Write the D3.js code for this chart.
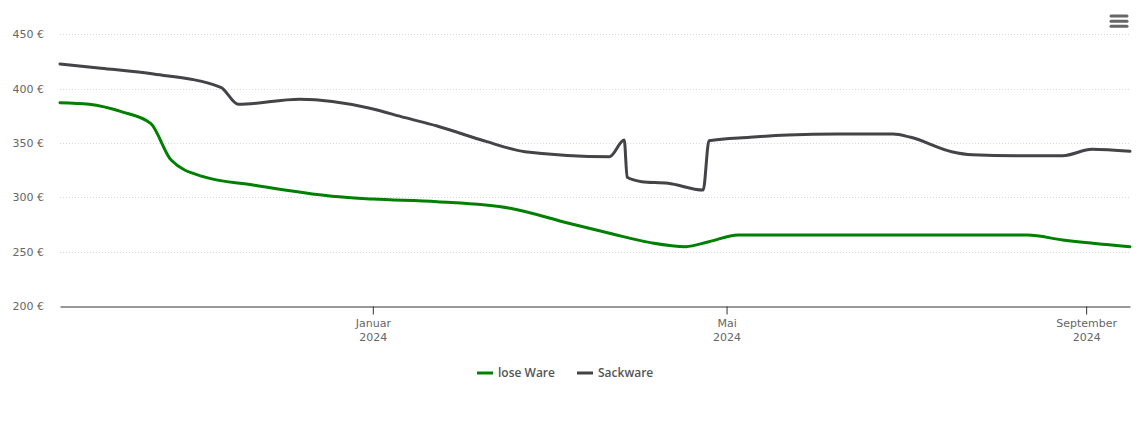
<!DOCTYPE html>
<html>
<head>
<meta charset="utf-8">
<script src="https://cdn.jsdelivr.net/npm/d3@7"></script>
<style>
  body { margin: 0; background: #fff; }
  svg { display: block; }
  text { font-family: "DejaVu Sans", sans-serif; }
</style>
</head>
<body>
<svg id="chart" width="1140" height="434"></svg>
<script>
// price history
const looseDates = ['2023-09-16', '2023-09-26', '2023-10-07', '2023-10-17', '2023-10-24', '2023-11-04',
    '2023-11-21', '2023-12-18', '2024-01-01', '2024-01-23', '2024-02-17', '2024-03-08', '2024-03-22',
    '2024-04-05', '2024-04-17', '2024-04-25', '2024-05-05', '2024-08-12', '2024-08-24', '2024-09-16'];
const looseValues = [387.1, 385.6, 378.8, 368.1, 334.3, 319, 311.3, 301, 298.4, 296, 289.9, 276.1, 266.9,
    258.3, 254.6, 259.2, 265.3, 265.3, 260.7, 254.6];

const sackDates = ['2023-09-16', '2023-09-30', '2023-10-18', '2023-11-10', '2023-11-16', '2023-12-07',
    '2023-12-31', '2024-01-12', '2024-01-23', '2024-02-09', '2024-02-22', '2024-03-22', '2024-03-27',
    '2024-03-28', '2024-04-02', '2024-04-11', '2024-04-23', '2024-04-25', '2024-05-09', '2024-05-22',
    '2024-06-08', '2024-06-27', '2024-07-03', '2024-07-17', '2024-07-24', '2024-08-08', '2024-08-24',
    '2024-09-03', '2024-09-16'];
const sackValues = [422.7, 418.8, 413.5, 401.2, 385.6, 390.2, 382, 373.3, 365.6, 351.2, 342, 337.4, 352.7,
    318.4, 314.4, 313, 306.7, 352, 355.2, 357.3, 358.3, 358.3, 355.2, 342, 339.2, 338.3, 338.3, 344.2, 342.3];

const yTicks = [200, 250, 300, 350, 400, 450];
const xTicks = ['2024-01-01', '2024-05-01', '2024-09-01'];
const monthNames = { 0: 'Januar', 4: 'Mai', 8: 'September' };

const seriesNames = ['lose Ware', 'Sackware'];
const seriesColors = ['#008000', '#434348'];

const parse = d3.utcParse('%Y-%m-%d');
const series = [
    looseDates.map((d, i) => ({ date: parse(d), value: looseValues[i] })),
    sackDates.map((d, i) => ({ date: parse(d), value: sackValues[i] })),
];

const width = 1140;
const margin = { left: 60, right: 10, top: 34.3 };
const plotBottom = 306;
const font = '"DejaVu Sans", sans-serif';

const svg = d3.select('#chart');

const x = d3.scaleUtc()
    .domain([parse('2023-09-16'), parse('2024-09-16')])
    .range([margin.left, width - margin.right]);

const y = d3.scaleLinear()
    .domain([200, 450])
    .range([plotBottom, margin.top]);

// grid
svg.append('g')
    .selectAll('line')
    .data(yTicks.filter((t) => t > 200))
    .enter()
    .append('line')
    .attr('x1', margin.left)
    .attr('x2', width - margin.right)
    .attr('y1', (d) => Math.round(y(d)) + 0.5)
    .attr('y2', (d) => Math.round(y(d)) + 0.5)
    .attr('stroke', '#d8d8d8')
    .attr('stroke-dasharray', '1,2');

// y labels
const yAxis = d3.axisLeft(y)
    .tickValues(yTicks)
    .tickSize(0)
    .tickPadding(16)
    .tickFormat((d) => d + ' €');

svg.append('g')
    .attr('transform', `translate(${margin.left},0)`)
    .call(yAxis)
    .attr('font-family', font)
    .attr('font-size', 11)
    .call((g) => g.select('.domain').remove())
    .call((g) => g.selectAll('text').attr('fill', '#666'));

// x axis
const xAxis = d3.axisBottom(x)
    .tickValues(xTicks.map(parse))
    .tickSize(8)
    .tickSizeOuter(0)
    .tickFormat('');

const xg = svg.append('g')
    .attr('transform', `translate(0,${plotBottom + 0.5})`)
    .call(xAxis)
    .attr('font-family', font)
    .attr('font-size', 11);
xg.select('.domain').attr('stroke', '#333');
xg.selectAll('.tick line').attr('stroke', '#333');

const labels = xg.selectAll('.tick')
    .append('text')
    .attr('fill', '#666')
    .attr('text-anchor', 'middle');
labels.append('tspan')
    .attr('x', 0)
    .attr('y', 20)
    .text((d) => monthNames[d.getUTCMonth()]);
labels.append('tspan')
    .attr('x', 0)
    .attr('y', 34)
    .text((d) => d.getUTCFullYear());

// lines
const line = d3.line()
    .x((d) => x(d.date))
    .y((d) => y(d.value))
    .curve(d3.curveMonotoneX);

svg.append('g')
    .selectAll('path')
    .data(series)
    .enter()
    .append('path')
    .attr('d', line)
    .attr('fill', 'none')
    .attr('stroke', (d, i) => seriesColors[i])
    .attr('stroke-width', 3)
    .attr('stroke-linejoin', 'round')
    .attr('stroke-linecap', 'round');

// legend
const legendPos = [477, 577];
const legend = svg.append('g')
    .selectAll('g')
    .data(seriesNames)
    .enter()
    .append('g')
    .attr('transform', (d, i) => `translate(${legendPos[i]},373)`);
legend.append('line')
    .attr('x1', 0)
    .attr('x2', 16)
    .attr('stroke', (d, i) => seriesColors[i])
    .attr('stroke-width', 3);
legend.append('text')
    .attr('x', 21)
    .attr('dy', '0.35em')
    .attr('font-size', 12)
    .attr('font-weight', 600)
    .attr('fill', '#555')
    .style('font-family', '"Open Sans", sans-serif')
    .text((d) => d);

// menu icon
svg.append('g')
    .selectAll('line')
    .data([16, 21.3, 26.3])
    .enter()
    .append('line')
    .attr('x1', 1111)
    .attr('x2', 1127)
    .attr('y1', (d) => d)
    .attr('y2', (d) => d)
    .attr('stroke', '#666')
    .attr('stroke-width', 3)
    .attr('stroke-linecap', 'round');
</script>
</body>
</html>
